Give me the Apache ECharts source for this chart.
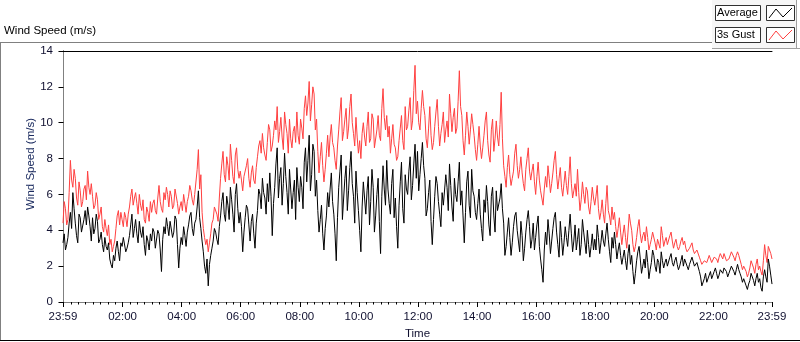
<!DOCTYPE html>
<html>
<head>
<meta charset="utf-8">
<script src="https://cdn.jsdelivr.net/npm/echarts@6/dist/echarts.min.js"></script>
<style>
  html, body { margin: 0; padding: 0; background: #fff; }
  #chart { width: 800px; height: 342px; }
</style>
</head>
<body>
<div id="chart"></div>
<script>
// wind readings every 2.5 minutes, 23:59 -> 23:59 (minutes from midnight)
var startMin = -1;
var endMin = 1439;

// Average (m/s), one row per hour
var avgSpeed = [
  3.3, 3.8, 2.9, 3.2, 3.6, 4.4, 5.0, 4.1, 6.1, 5.2, 4.4, 3.7, 3.3, 4.9, 4.7, 3.9, 4.0, 4.6, 5.1, 4.3, 5.3, 4.8, 4.2, 3.4,
  4.7, 3.8, 4.1, 4.9, 4.5, 3.3, 3.5, 3.9, 3.2, 2.8, 3.6, 3.1, 2.9, 3.3, 2.4, 2.1, 1.9, 2.6, 2.3, 3.0, 3.4, 2.8, 2.3, 3.3,
  3.1, 3.6, 3.5, 2.8, 3.0, 3.3, 3.7, 4.3, 4.9, 3.6, 4.1, 4.6, 3.8, 3.3, 4.5, 3.9, 3.6, 4.2, 3.2, 2.6, 3.7, 3.4, 2.9, 3.8,
  3.4, 4.1, 3.9, 3.0, 3.1, 4.0, 3.8, 2.9, 1.7, 3.5, 4.2, 3.8, 4.7, 4.2, 3.7, 4.5, 4.4, 3.6, 3.9, 4.8, 4.6, 3.2, 1.9, 3.0,
  3.6, 3.2, 4.2, 3.7, 3.1, 3.9, 4.3, 4.8, 5.0, 4.1, 3.7, 4.4, 4.6, 5.3, 6.2, 4.7, 4.1, 3.4, 2.8, 2.0, 1.6, 2.4, 0.9, 2.1,
  2.6, 3.0, 3.4, 4.1, 3.9, 3.5, 3.2, 4.2, 4.8, 5.6, 6.1, 4.9, 4.5, 5.9, 5.4, 4.6, 6.4, 5.7, 4.9, 3.9, 6.0, 6.6, 5.2, 4.4,
  5.0, 4.2, 2.8, 3.9, 4.7, 5.4, 5.2, 4.3, 3.4, 4.5, 4.9, 3.8, 3.0, 4.4, 5.1, 6.3, 6.0, 5.2, 6.9, 6.1, 5.8, 4.9, 6.6, 5.6,
  7.2, 5.9, 3.7, 5.5, 6.4, 7.7, 8.6, 5.8, 6.9, 7.5, 5.4, 6.6, 8.3, 7.0, 6.1, 4.9, 7.4, 6.3, 5.2, 6.1, 6.8, 4.6, 7.5, 6.4,
  5.6, 7.0, 6.4, 5.2, 7.8, 8.6, 6.7, 7.9, 9.3, 6.2, 7.1, 8.8, 8.4, 5.9, 6.8, 5.1, 3.9, 4.6, 5.4, 3.8, 2.9, 4.1, 4.8, 6.1,
  5.3, 6.3, 7.2, 5.6, 4.9, 3.8, 2.3, 4.7, 6.4, 7.3, 8.2, 4.6, 5.8, 6.9, 7.6, 5.1, 6.2, 7.5, 8.4, 6.6, 5.9, 4.4, 7.3, 6.1,
  5.1, 4.0, 2.8, 5.3, 6.7, 5.8, 4.9, 6.2, 7.0, 4.3, 5.6, 7.4, 6.4, 3.9, 4.8, 6.0, 6.9, 4.5, 2.7, 5.9, 7.6, 6.3, 5.4, 7.9,
  6.3, 5.5, 4.9, 6.6, 7.4, 4.7, 5.8, 4.2, 3.0, 5.4, 6.7, 7.8, 5.2, 4.4, 7.1, 6.3, 6.0, 7.3, 8.1, 5.7, 6.5, 7.7, 8.8, 6.9,
  8.4, 6.2, 7.1, 8.0, 8.9, 7.6, 6.9, 4.8, 5.2, 6.1, 6.8, 4.5, 3.2, 4.6, 5.9, 7.0, 6.6, 5.6, 4.9, 4.2, 6.1, 5.4, 5.3, 7.1,
  6.4, 5.1, 7.7, 6.5, 5.3, 4.5, 6.9, 6.0, 5.6, 6.7, 7.8, 5.4, 6.2, 4.8, 3.3, 5.0, 6.7, 7.3, 5.4, 4.7, 7.4, 6.2, 5.9, 5.0,
  4.6, 5.5, 6.3, 4.9, 4.1, 3.4, 5.7, 5.0, 6.5, 5.6, 4.3, 3.7, 5.9, 6.4, 4.8, 3.9, 6.2, 5.1, 5.0, 5.8, 6.6, 5.2, 4.4, 2.6,
  3.1, 3.9, 4.7, 3.6, 2.6, 3.3, 4.2, 4.8, 5.0, 4.0, 3.4, 2.8, 4.5, 3.7, 2.3, 3.0, 3.9, 4.6, 5.1, 4.2, 3.0, 3.5, 4.4, 2.9,
  3.6, 4.3, 4.8, 3.1, 2.4, 1.8, 1.1, 2.9, 3.9, 3.2, 4.6, 3.8, 2.7, 3.4, 4.1, 4.7, 5.0, 3.9, 3.2, 2.5, 4.5, 3.6, 2.6, 3.3,
  4.2, 3.6, 3.1, 4.0, 4.9, 3.8, 2.8, 3.4, 4.3, 2.9, 3.5, 4.1, 2.6, 3.2, 4.6, 3.9, 3.3, 2.7, 4.0, 3.2, 2.5, 3.1, 3.8, 2.9,
  3.5, 2.9, 4.3, 3.6, 2.7, 3.3, 4.0, 3.4, 3.1, 3.8, 4.4, 3.5, 2.8, 2.2, 3.6, 3.0, 3.9, 3.2, 2.4, 2.9, 3.3, 2.6, 2.1, 2.5,
  2.9, 2.3, 1.8, 2.7, 3.2, 2.1, 2.6, 1.7, 1.0, 1.6, 2.3, 2.8, 3.1, 2.4, 1.6, 2.0, 2.4, 1.9, 2.9, 2.2, 1.3, 1.8, 2.2, 2.9,
  2.6, 2.0, 1.7, 2.4, 2.2, 1.6, 2.8, 2.3, 1.9, 2.2, 2.4, 2.0, 2.1, 2.5, 2.7, 2.2, 2.0, 2.3, 2.5, 2.1, 1.8, 2.0, 2.3, 2.6,
  2.0, 2.4, 2.3, 2.0, 1.8, 2.1, 2.2, 2.5, 2.4, 2.0, 1.9, 2.2, 2.1, 1.7, 1.4, 0.9, 1.0, 1.3, 1.6, 1.1, 1.2, 1.5, 1.7, 1.3,
  1.5, 1.7, 1.9, 1.6, 1.3, 1.5, 1.8, 1.7, 1.6, 1.9, 2.0, 1.7, 1.4, 1.6, 1.7, 2.0, 1.9, 1.7, 1.5, 1.8, 2.1, 1.8, 1.6, 1.4,
  1.1, 1.3, 1.4, 0.9, 0.7, 1.0, 1.2, 1.6, 1.5, 1.2, 0.9, 1.3, 1.6, 1.1, 1.3, 0.8, 0.6, 1.4, 1.8, 1.4, 1.1, 2.4, 2.0, 1.5, 1.0
];

// 3s Gust (m/s), one row per hour
var gustSpeed = [
  4.4, 5.6, 5.2, 4.3, 4.6, 6.1, 7.9, 6.8, 6.4, 7.4, 6.9, 5.8, 5.4, 6.7, 6.2, 5.3, 5.6, 6.3, 6.5, 5.7, 7.3, 6.4, 6.0, 6.6,
  5.9, 5.2, 5.4, 6.1, 5.7, 4.6, 4.9, 5.3, 4.2, 3.9, 4.6, 4.1, 3.7, 4.3, 3.2, 3.5, 2.8, 3.1, 3.4, 4.1, 4.8, 5.1, 4.3, 5.0,
  4.6, 4.2, 5.0, 4.7, 4.2, 4.9, 5.3, 5.9, 6.3, 5.4, 5.8, 6.1, 5.5, 4.9, 6.0, 5.4, 5.1, 5.7, 4.6, 4.4, 5.3, 5.0, 4.5, 5.6,
  5.0, 5.5, 5.7, 5.1, 4.9, 5.8, 6.5, 5.6, 5.2, 5.0, 6.1, 5.7, 6.4, 6.0, 5.3, 6.2, 5.9, 5.2, 5.4, 6.3, 6.2, 5.5, 4.9, 5.3,
  5.6, 5.1, 6.0, 5.5, 5.0, 5.6, 5.9, 6.5, 6.2, 5.7, 5.4, 6.0, 6.1, 7.4, 8.5, 6.3, 7.1, 5.0, 4.1, 3.6, 3.2, 3.5, 2.8, 3.3,
  3.8, 4.4, 4.6, 5.3, 5.2, 4.9, 4.5, 5.8, 6.9, 7.7, 8.4, 7.1, 6.7, 8.1, 7.6, 6.8, 8.8, 7.9, 7.0, 6.6, 8.2, 8.6, 7.4, 6.9,
  7.3, 6.8, 6.2, 7.0, 7.1, 7.6, 8.0, 6.9, 6.4, 7.2, 7.6, 6.8, 6.6, 7.5, 8.1, 8.7, 9.0, 8.3, 9.4, 8.6, 8.2, 7.9, 8.9, 9.9,
  9.6, 8.4, 8.7, 9.3, 10.1, 9.6, 10.9, 8.9, 9.5, 10.3, 9.2, 8.5, 10.6, 9.9, 9.4, 8.3, 10.2, 9.1, 8.6, 9.5, 9.8, 8.9, 10.6, 9.3,
  8.8, 10.2, 9.7, 9.1, 10.8, 11.5, 10.4, 11.1, 12.3, 10.1, 11.0, 12.0, 11.6, 9.6, 10.2, 8.4, 7.2, 8.1, 8.9, 7.6, 6.7, 7.4, 8.3, 9.3,
  8.1, 9.2, 9.9, 8.9, 8.6, 7.9, 7.4, 8.7, 9.6, 10.6, 11.4, 9.0, 9.5, 10.2, 10.8, 9.1, 9.7, 10.9, 11.6, 10.0, 9.4, 8.7, 10.3, 9.2,
  8.3, 9.0, 8.0, 9.4, 10.0, 9.2, 8.7, 9.8, 10.6, 8.9, 9.1, 10.5, 10.2, 8.6, 8.5, 9.6, 10.4, 9.3, 9.0, 10.8, 11.9, 10.3, 9.6, 10.4,
  9.2, 9.8, 8.3, 9.1, 9.9, 8.8, 8.6, 7.9, 8.1, 9.0, 9.7, 10.4, 9.0, 8.5, 10.9, 9.6, 9.8, 10.7, 11.4, 9.6, 10.1, 11.8, 13.2, 10.5,
  11.2, 10.0, 9.6, 10.8, 11.8, 10.9, 10.4, 9.1, 8.6, 9.7, 10.9, 9.3, 8.5, 8.9, 9.8, 10.6, 11.3, 9.8, 8.7, 9.4, 9.9, 10.6, 8.9, 9.6,
  10.1, 9.2, 11.6, 10.5, 9.5, 10.3, 10.8, 9.4, 9.7, 11.2, 12.9, 10.9, 10.4, 9.0, 8.2, 9.3, 10.6, 9.8, 8.8, 9.6, 10.5, 9.9, 9.3, 8.5,
  7.9, 8.8, 9.8, 8.7, 8.0, 8.6, 9.3, 10.1, 10.6, 9.0, 8.2, 7.8, 9.6, 10.2, 8.4, 9.1, 10.1, 9.2, 8.7, 9.9, 11.7, 9.1, 7.6, 7.0,
  6.4, 7.5, 8.2, 7.1, 6.5, 6.9, 7.3, 8.3, 8.8, 7.6, 6.9, 7.4, 8.1, 7.2, 6.6, 6.2, 7.4, 8.0, 8.6, 7.3, 6.8, 7.3, 7.7, 6.7,
  6.0, 7.0, 7.8, 6.8, 6.2, 5.8, 5.4, 6.3, 7.0, 6.4, 7.6, 6.9, 6.1, 6.6, 7.2, 7.9, 8.4, 7.1, 6.3, 6.9, 7.5, 6.4, 5.9, 6.6,
  7.3, 6.5, 6.0, 7.0, 8.1, 6.6, 5.8, 6.2, 6.6, 5.9, 7.4, 6.1, 5.1, 5.7, 6.7, 6.0, 5.5, 6.4, 6.2, 5.3, 4.9, 5.6, 6.4, 5.8,
  5.4, 5.9, 6.5, 5.2, 4.6, 5.0, 5.7, 4.9, 4.4, 5.5, 6.5, 5.1, 4.8, 4.3, 5.3, 4.6, 5.0, 4.2, 3.6, 4.1, 4.7, 3.9, 3.2, 3.8,
  4.3, 3.6, 3.0, 3.9, 4.9, 4.4, 4.0, 3.2, 2.8, 3.1, 3.6, 4.2, 4.6, 3.8, 3.3, 3.7, 3.9, 3.4, 4.2, 3.6, 2.9, 3.2, 3.5, 3.9,
  3.8, 3.3, 2.9, 3.5, 3.4, 3.0, 4.2, 3.7, 3.1, 3.4, 3.6, 3.2, 3.3, 3.7, 3.9, 3.4, 3.0, 3.3, 3.5, 3.1, 2.9, 3.1, 3.4, 3.6,
  3.2, 3.4, 3.0, 2.8, 2.7, 3.0, 3.1, 3.3, 2.9, 2.7, 2.6, 2.9, 2.8, 2.5, 2.3, 2.1, 2.0, 2.3, 2.4, 2.2, 2.1, 2.6, 2.5, 2.2,
  2.3, 2.5, 2.6, 2.4, 2.2, 2.5, 2.7, 2.6, 2.4, 2.7, 2.6, 2.3, 2.2, 2.4, 2.5, 2.8, 2.7, 2.5, 2.3, 2.6, 2.8, 2.6, 2.5, 2.1,
  1.8, 2.0, 2.1, 1.7, 1.4, 1.6, 1.9, 2.3, 2.2, 1.9, 1.6, 2.1, 2.4, 1.8, 2.0, 1.7, 1.5, 2.3, 3.2, 2.6, 2.2, 3.1, 3.0, 2.7, 2.4
];

// axis ticks (minutes)
var majorTicks = [-1, 120, 240, 360, 480, 600, 720, 840, 960, 1080, 1200, 1320, 1439];
var minorTicks = [];
for (var m = 15; m < 1439; m += 15) minorTicks.push(m);

function pad(n) { return (n < 10 ? "0" : "") + n; }
function timeLabel(v) {
  if (v < 0 || v >= 1439) return "23:59";
  return pad(Math.floor(v / 60)) + ":" + pad(v % 60);
}
// spread readings evenly over the day
function toPairs(arr) {
  var step = (endMin - startMin) / (arr.length - 1);
  return arr.map(function (v, i) { return [startMin + i * step, v]; });
}

var font = "Liberation Sans";
var txt = "#101030";
var chart = echarts.init(document.getElementById("chart"), null, { renderer: "canvas" });

var option = {
  animation: false,
  backgroundColor: "#fff",
  textStyle: { fontFamily: font },
  grid: { left: 63, top: 51, width: 709, height: 251, outerBoundsMode: "none", containLabel: false },
  xAxis: [
    {
      type: "value", min: startMin, max: endMin,
      axisLine: { show: true, lineStyle: { color: "#808080", width: 1 } },
      axisTick: { show: true, customValues: majorTicks, length: 5, lineStyle: { color: "#000" } },
      axisLabel: {
        customValues: majorTicks, formatter: timeLabel, margin: 9,
        color: txt, fontSize: 11.5, fontFamily: font,
        showMinLabel: true, showMaxLabel: true
      },
      splitLine: { show: false },
      name: "Time", nameLocation: "middle", nameGap: 26,
      nameTextStyle: { color: txt, fontSize: 11.5, fontFamily: font }
    },
    {
      type: "value", min: startMin, max: endMin, position: "bottom",
      axisLine: { show: false },
      axisTick: { show: true, customValues: minorTicks, length: 2.5, lineStyle: { color: "#000" } },
      axisLabel: { show: false },
      splitLine: { show: false }
    },
    {
      type: "value", min: startMin, max: endMin, position: "top",
      axisLine: { show: true, lineStyle: { color: "#000" } },
      axisTick: { show: false }, axisLabel: { show: false }, splitLine: { show: false }
    }
  ],
  yAxis: [
    {
      type: "value", min: 0, max: 14, interval: 2,
      axisLine: { show: true, lineStyle: { color: "#000" } },
      axisTick: { show: true, length: 5, lineStyle: { color: "#000" } },
      axisLabel: { margin: 10, color: txt, fontSize: 11.5, fontFamily: font },
      splitLine: { show: false }
    },
    {
      type: "value", min: 0, max: 14, position: "right",
      axisLine: { show: true, lineStyle: { color: "#808080" } },
      axisTick: { show: false }, axisLabel: { show: false }, splitLine: { show: false }
    }
  ],
  series: [
    {
      name: "3s Gust", type: "line", data: toPairs(gustSpeed),
      showSymbol: false, symbol: "none",
      lineStyle: { color: "#ff4040", width: 1 }
    },
    {
      name: "Average", type: "line", data: toPairs(avgSpeed),
      showSymbol: false, symbol: "none",
      lineStyle: { color: "#000", width: 1 }
    }
  ],
  graphic: [
    // panel frame
    { type: "line", shape: { x1: 0, y1: 42.5, x2: 712, y2: 42.5 }, style: { stroke: "#808080", lineWidth: 1 } },
    { type: "line", shape: { x1: 0.5, y1: 42, x2: 0.5, y2: 341 }, style: { stroke: "#808080", lineWidth: 1 } },
    { type: "line", shape: { x1: 0, y1: 340.5, x2: 800, y2: 340.5 }, style: { stroke: "#000", lineWidth: 1 } },
    { type: "rect", shape: { x: 712, y: 0, width: 85, height: 48 }, style: { fill: "#f6f6f6" } },
    { type: "line", shape: { x1: 712, y1: 48.5, x2: 800, y2: 48.5 }, style: { stroke: "#a0a0a0", lineWidth: 1 } },
    { type: "line", shape: { x1: 796.5, y1: 0, x2: 796.5, y2: 48 }, style: { stroke: "#a0a0a0", lineWidth: 1 } },
    // title
    { type: "text", x: 4, y: 31, style: { text: "Wind Speed (m/s)", fill: "#000", font: "11.5px " + font, verticalAlign: "middle" } },
    // y axis name
    {
      type: "text", x: 31, y: 164, rotation: Math.PI / 2,
      style: { text: "Wind Speed (m/s)", fill: "#1c2c60", font: "11.5px " + font, align: "center", verticalAlign: "middle" }
    },
    // legend: Average
    { type: "rect", shape: { x: 715.5, y: 5.5, width: 45, height: 15 }, style: { fill: "#fff", stroke: "#303030", lineWidth: 1 } },
    { type: "text", x: 717, y: 13, style: { text: "Average", fill: "#000", font: "11px " + font, verticalAlign: "middle" } },
    { type: "rect", shape: { x: 766.5, y: 5.5, width: 28, height: 15 }, style: { fill: "#fff", stroke: "#303030", lineWidth: 1 } },
    { type: "polyline", shape: { points: [[769, 18], [776, 9], [783, 17], [792, 8]] }, style: { stroke: "#000", lineWidth: 1, fill: null } },
    // legend: 3s Gust
    { type: "rect", shape: { x: 715.5, y: 27.5, width: 45, height: 15 }, style: { fill: "#fff", stroke: "#303030", lineWidth: 1 } },
    { type: "text", x: 717, y: 35, style: { text: "3s Gust", fill: "#000", font: "11px " + font, verticalAlign: "middle" } },
    { type: "rect", shape: { x: 766.5, y: 27.5, width: 28, height: 15 }, style: { fill: "#fff", stroke: "#303030", lineWidth: 1 } },
    { type: "polyline", shape: { points: [[769, 40], [776, 31], [783, 39], [792, 30]] }, style: { stroke: "#ff4040", lineWidth: 1, fill: null } }
  ]
};

chart.setOption(option);
window.onresize = function () {
  chart.resize();
};
</script>
</body>
</html>
